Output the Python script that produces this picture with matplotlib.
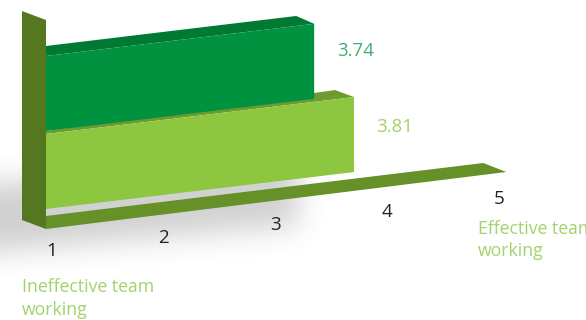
import numpy as np
import matplotlib
matplotlib.use("Agg")
import matplotlib.pyplot as plt
from matplotlib.patches import Polygon
from matplotlib.path import Path

# Mean scores per group
series_names = ["Ineffective", "Effective"]
series_values = [3.74, 3.81]
tick_values = [1, 2, 3, 4, 5]
low_label = "Ineffective team\nworking"
high_label = "Effective team\nworking"

W, H = 586, 320
plt.rcParams["font.family"] = ["Open Sans", "DejaVu Sans"]

# Oblique projection used by the fake 3D: value axis runs up and to the right
PX_PER_UNIT = 112
SLOPE = 0.12
WALL_X = 46


def value_x(v, shift=0):
    return 39.3 + PX_PER_UNIT * (v - 1) + shift


def rise(x, y_left):
    return y_left - SLOPE * (x - WALL_X)


def blur(img, sigma):
    r = int(sigma * 3)
    k = np.exp(-0.5 * (np.arange(-r, r + 1) / sigma) ** 2)
    k /= k.sum()
    img = np.apply_along_axis(lambda a: np.convolve(a, k, mode="same"), 0, img)
    return np.apply_along_axis(lambda a: np.convolve(a, k, mode="same"), 1, img)


fig = plt.figure(figsize=(W / 100, H / 100), dpi=100)
ax = fig.add_axes([0, 0, 1, 1])
ax.set_xlim(0, W)
ax.set_ylim(H, 0)
ax.axis("off")

# soft drop shadow under the chart
pad = 60
yy, xx = np.mgrid[-pad:H + pad, -pad:W + pad]
shape = Path([(-60, 190), (298, 150), (298, 226), (-60, 256)])
mask = shape.contains_points(np.c_[xx.ravel() + 0.5, yy.ravel() + 0.5]).reshape(xx.shape).astype(float)
shadow = blur(mask, 14)[pad:-pad, pad:-pad]
rgba = np.zeros((H, W, 4))
rgba[..., :3] = 0.30
rgba[..., 3] = shadow * 0.26
ax.imshow(rgba, extent=(0, W, H, 0), aspect="auto", zorder=1, interpolation="bilinear")
ax.set_xlim(0, W)
ax.set_ylim(H, 0)

# floor running along the value axis
floor_end = value_x(tick_values[-1]) + 19
floor = [(WALL_X, 229), (floor_end, 172), (floor_end - 23, 163), (WALL_X, 216)]
ax.add_patch(Polygon(floor, fc="#669028", ec="none", zorder=2))


# front face plus the top face going back into the page
def draw_bar(value, shift, y_top, y_bottom, front, top, back_dx, back_dy, left_dy, z):
    xr = value_x(value, shift)
    ax.add_patch(Polygon([(WALL_X, y_top - left_dy), (xr + back_dx, rise(xr + back_dx, y_top) + back_dy),
                          (xr, rise(xr, y_top)), (WALL_X, y_top)], fc=top, ec="none", zorder=z))
    ax.add_patch(Polygon([(WALL_X, y_top), (xr, rise(xr, y_top)), (xr, rise(xr, y_bottom)), (WALL_X, y_bottom)],
                         fc=front, ec="none", zorder=z))
    return xr


# lighter bar in front, then the darker one standing behind it
x_light = draw_bar(series_values[1], 0, 134, 209, "#8DC63F", "#6D9B2F", -19, -9.3, 3, 3)
x_dark = draw_bar(series_values[0], -32, 56, 131, "#00923F", "#007A33", -18, -10, 10, 4)

# back wall, seen from the side
ax.add_patch(Polygon([(22, 11), (WALL_X, 20), (WALL_X, 229), (22, 220)], fc="#55771F", ec="none", zorder=5))

ax.text(x_dark + 23, rise(x_dark, 83), f"{series_values[0]:.2f}", color="#3FAE70", fontsize=13.5,
        ha="left", va="center", zorder=6)
ax.text(x_light + 22, rise(x_light, 164), f"{series_values[1]:.2f}", color="#A2D36B", fontsize=13.5,
        ha="left", va="center", zorder=6)

for t in tick_values:
    x = value_x(t) + 12
    ax.text(x, 251.5 - (x - 51) * 0.116, str(t), color="#222222", fontsize=13.5, ha="center", va="center", zorder=6)

ax.text(22, 298.5, low_label, color="#A2D36B", fontsize=12.7, ha="left", va="center", linespacing=1.33, zorder=6)
ax.text(477.5, 240, high_label, color="#A2D36B", fontsize=12.7, ha="left", va="center", linespacing=1.33, zorder=6)

fig.savefig("out.png", dpi=100)
